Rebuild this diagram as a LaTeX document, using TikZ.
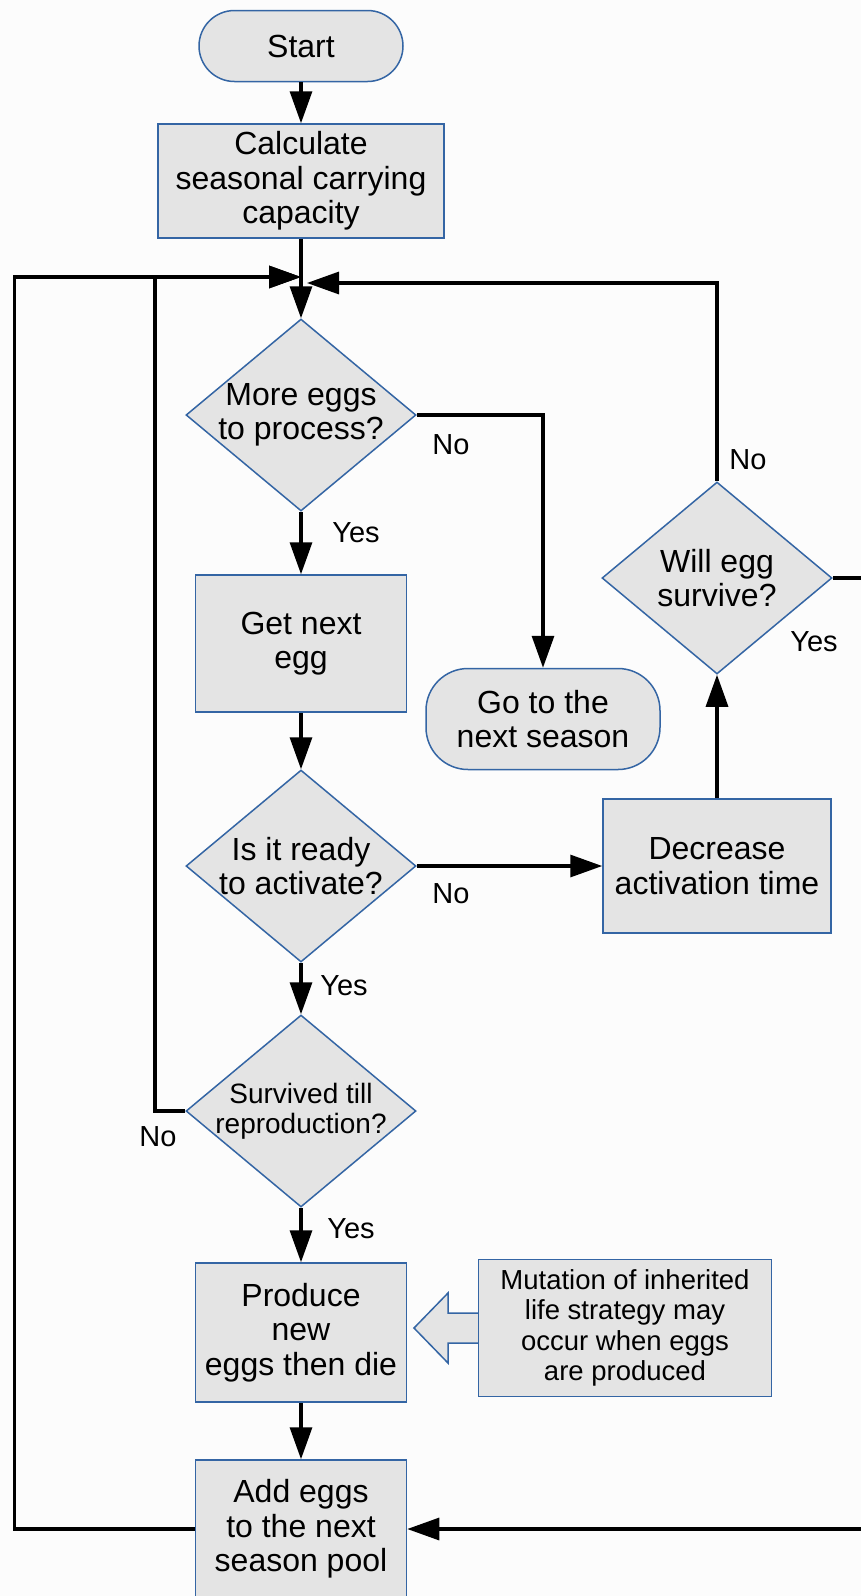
\documentclass[tikz,border=0pt]{standalone}
\usepackage{fontspec}
\setmainfont{Liberation Sans}
\usetikzlibrary{shapes.geometric,arrows.meta}
\definecolor{bord}{RGB}{52,101,164}
\definecolor{fillg}{RGB}{228,228,228}
\definecolor{bgc}{RGB}{252,252,252}
\newcommand{\myfmain}{\fontsize{32}{34.6}\selectfont}
\newcommand{\myfsmall}{\fontsize{27.5}{30.5}\selectfont}
\newcommand{\myflab}{\fontsize{29}{32}\selectfont}
\begin{document}
\begin{tikzpicture}[x=1pt,y=-1pt,
  box/.style={draw=bord, line width=1.5pt, fill=fillg, align=center, inner sep=0pt, font=\myfmain},
  term/.style={box, rounded corners=#1},
  dec/.style={diamond, draw=bord, line width=1.5pt, fill=fillg, inner sep=0pt, minimum width=230pt, minimum height=192pt},
  txt/.style={align=center, font=\myfmain, inner sep=0pt},
  lab/.style={font=\myflab, inner sep=0pt},
  conn/.style={line width=3.2pt, black},
  arr/.style={conn, -{Triangle[length=32pt,width=22pt]}},
]
\fill[bgc] (0,0) rectangle (861,1596);
\useasboundingbox (0,0) rectangle (861,1596);

% nodes
\node[term=35.5pt, minimum width=204pt, minimum height=71pt] (start) at (301,46) {Start};
\node[box, minimum width=286pt, minimum height=114pt] (calc) at (301,181) {Calculate\\seasonal carrying\\capacity};

\node[dec] (q1) at (301,415) {};
\node[txt] (q1t) at (q1.center) {More eggs\\to process?};

\node[box, minimum width=211pt, minimum height=137pt] (get) at (301,643.5) {Get next\\egg};
\node[term=42pt, minimum width=234pt, minimum height=101pt] (go) at (543,719) {Go to the\\next season};

\node[dec] (ready) at (301,866) {};
\node[txt] (readyt) at (ready.center) {Is it ready\\to activate?};

\node[box, minimum width=228pt, minimum height=134pt] (decr) at (717,866) {Decrease\\activation time};

\node[dec] (will) at (717,578) {};
\node[txt] (willt) at (will.center) {Will egg\\survive?};

\node[dec] (surv) at (301,1111) {};
\node[txt, font=\fontsize{28}{29.5}\selectfont] (survt) at (surv.center) {Survived till\\reproduction?};

\node[box, minimum width=211pt, minimum height=139pt] (prod) at (301,1332.5) {Produce\\new\\eggs then die};

% hollow arrow
\draw[draw=bord, line width=1.5pt, fill=fillg] (480,1313) -- (448,1313) -- (448,1293) -- (414,1328) -- (448,1363) -- (448,1343) -- (480,1343);
\node[box, font=\myfsmall, minimum width=293pt, minimum height=137pt] (mut) at (625,1328) {Mutation of inherited\\life strategy may\\occur when eggs\\are produced};

\node[box, minimum width=211pt, minimum height=138pt] (add) at (301,1529) {Add eggs\\to the next\\season pool};

% coordinates
\coordinate (mL) at (301,277);
\coordinate (mR) at (307,283);
\coordinate (lx0) at (14.5,800);
\coordinate (lx1) at (155,800);
\coordinate (rx) at (868,800);

% connectors
\draw[arr] (start.south) -- (calc.north);
\draw[conn] (calc.south) -- (mL);
\draw[arr] (add.west) -- (add.west -| lx0) |- (mL);
\draw[arr] (surv.west) -- (surv.west -| lx1) |- (mL);
\draw[arr] (will.north) |- (mR);
\draw[arr] (mL) -- (q1.north);
\draw[arr] (q1.south) -- (get.north);
\draw[arr] (q1.east) -| (go.north);
\draw[arr] (get.south) -- (ready.north);
\draw[arr] (ready.east) -- (decr.west);
\draw[arr] (decr.north) -- (will.south);
\draw[arr] (will.east) -- (will.east -| rx) |- (add.east);
\draw[arr] (ready.south) -- (surv.north);
\draw[arr] (surv.south) -- (prod.north);
\draw[arr] (prod.south) -- (add.north);

% labels
\node[lab] (l1) at (451,445) {No};
\node[lab] (l2) at (356,533) {Yes};
\node[lab] (l3) at (451,893.5) {No};
\node[lab] (l4) at (344,986) {Yes};
\node[lab] (l5) at (748,460) {No};
\node[lab] (l6) at (814,642) {Yes};
\node[lab] (l7) at (158,1137) {No};
\node[lab] (l8) at (351,1229) {Yes};
\end{tikzpicture}
\end{document}
